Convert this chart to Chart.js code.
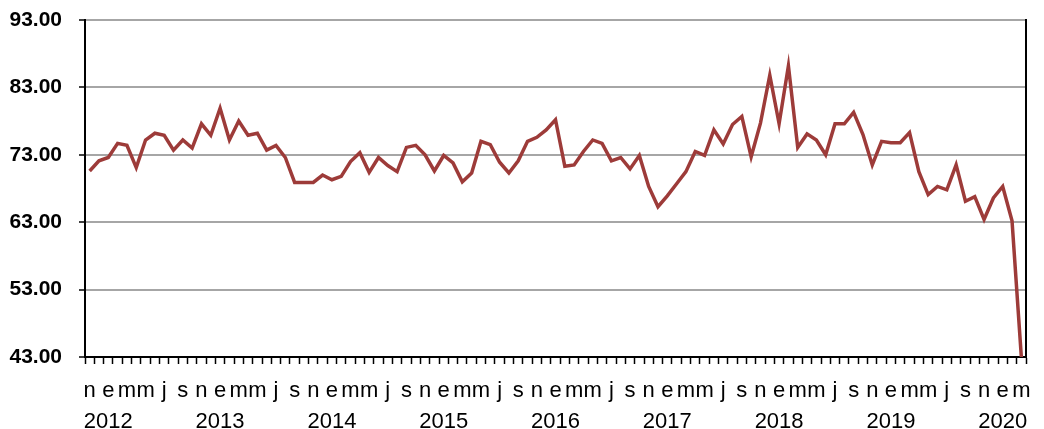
<!DOCTYPE html>
<html>
<head>
<meta charset="utf-8">
<script src="https://cdn.jsdelivr.net/npm/chart.js@4.4.1/dist/chart.umd.min.js"></script>
<style>
  html, body { margin: 0; padding: 0; background: #ffffff; }
  #wrap { width: 1044px; height: 429px; position: relative; }
</style>
</head>
<body>
<div id="wrap"><canvas id="c"></canvas></div>
<script>
// Monthly categories: November 2011 .. March 2020
const startYear = 2011;
const startMonth = 11; // 1-based
const monthLetters = ['e','f','m','a','m','j','j','a','s','o','n','d'];

// Series values (index 0 = Nov 2011)
const values = [
  70.6, 72.1,                                                             // 2011 nov-dic
  72.6, 74.7, 74.4, 71.1, 75.2, 76.2, 75.9, 73.7, 75.2, 74.0, 77.6, 75.9, // 2012
  79.9, 75.2, 78.0, 75.9, 76.2, 73.7, 74.4, 72.6, 68.9, 68.9, 68.9, 70.0, // 2013
  69.3, 69.8, 72.0, 73.3, 70.4, 72.6, 71.4, 70.5, 74.1, 74.4, 73.0, 70.6, // 2014
  72.9, 71.8, 69.0, 70.3, 75.0, 74.5, 71.9, 70.3, 72.1, 75.0, 75.6, 76.7, // 2015
  78.2, 71.3, 71.5, 73.5, 75.2, 74.7, 72.1, 72.6, 70.9, 72.9, 68.3, 65.3, // 2016
  66.9, 68.7, 70.5, 73.5, 72.9, 76.7, 74.6, 77.5, 78.7, 72.7, 77.7, 84.8, // 2017
  77.6, 86.2, 74.1, 76.1, 75.2, 73.0, 77.6, 77.6, 79.3, 76.0, 71.5, 75.0, // 2018
  74.8, 74.8, 76.3, 70.5, 67.1, 68.3, 67.8, 71.5, 66.1, 66.8, 63.4, 66.6, // 2019
  68.3, 63.2, 43.0                                                        // 2020 ene-mar
];

// Y axis tick settings
const yMin = 43, yMax = 93, yStep = 10;

// Build categories as {year, month}
const categories = values.map((_, i) => {
  const m0 = (startMonth - 1 + i);
  return { year: startYear + Math.floor(m0 / 12), month: (m0 % 12) + 1 };
});
const labels = categories.map(c => c.year + '-' + String(c.month).padStart(2, '0'));

const rightBorder = {
  id: 'rightBorder',
  afterDraw(chart) {
    const { ctx, chartArea } = chart;
    ctx.save();
    ctx.strokeStyle = '#000000';
    ctx.lineWidth = 2;
    ctx.beginPath();
    ctx.moveTo(chartArea.right, chartArea.top - 1);
    ctx.lineTo(chartArea.right, chartArea.bottom + 1);
    ctx.stroke();
    ctx.restore();
  }
};

new Chart(document.getElementById('c'), {
  type: 'line',
  data: {
    labels: labels,
    datasets: [{
      data: values,
      borderColor: '#9d3b39',
      borderWidth: 3.5,
      pointRadius: 0,
      tension: 0,
      fill: false
    }]
  },
  options: {
    responsive: true,
    maintainAspectRatio: false,
    animation: false,
    layout: { padding: { top: 20, right: 18, bottom: 0, left: 0 } },
    plugins: { legend: { display: false }, tooltip: { enabled: false } },
    scales: {
      x: {
        type: 'category',
        offset: true,
        afterFit(scale) { scale.height = 72; },
        grid: {
          offset: true,
          drawOnChartArea: false,
          drawTicks: true,
          tickLength: 7,
          tickColor: '#000000',
          tickWidth: 1.5
        },
        border: { color: '#000000', width: 2 },
        ticks: {
          autoSkip: false,
          maxRotation: 0,
          minRotation: 0,
          padding: 11,
          color: '#000000',
          font: { family: '"Liberation Sans Narrow", "Liberation Sans", Arial, sans-serif', size: 22, lineHeight: 1.42 },
          callback(value, index) {
            const c = categories[index];
            const letter = (c.month % 2 === 1) ? monthLetters[c.month - 1] : '';
            const year = (c.month === 1) ? String(c.year) : '';
            return [letter, year];
          }
        }
      },
      y: {
        min: yMin,
        max: yMax,
        afterFit(scale) { scale.width = 85; scale.paddingTop = 0; scale.paddingBottom = 0; },
        grid: {
          color: '#a6a6a6',
          lineWidth: 2,
          drawTicks: true,
          tickLength: 6,
          tickColor: '#000000',
          tickWidth: 1.5
        },
        border: { color: '#000000', width: 2 },
        ticks: {
          stepSize: yStep,
          padding: 17,
          color: '#000000',
          font: { family: '"Liberation Sans Narrow", "Liberation Sans", Arial, sans-serif', size: 21, weight: 'bold' },
          callback(v) { return Number(v).toFixed(2); }
        }
      }
    }
  },
  plugins: [rightBorder]
});
</script>
</body>
</html>
